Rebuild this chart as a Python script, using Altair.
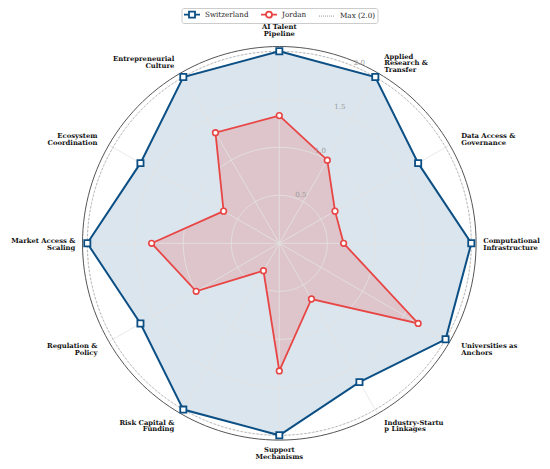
import altair as alt
import numpy as np
import pandas as pd

categories = ["AI Talent\nPipeline", "Applied\nResearch &\nTransfer", "Data Access &\nGovernance",
              "Computational\nInfrastructure", "Universities as\nAnchors", "Industry-Startu\np Linkages",
              "Support\nMechanisms", "Risk Capital &\nFunding", "Regulation &\nPolicy",
              "Market Access &\nScaling", "Ecosystem\nCoordination", "Entrepreneurial\nCulture"]
switzerland = [2.0, 2.0, 1.67, 2.0, 2.0, 1.67, 2.0, 2.0, 1.67, 2.0, 1.67, 2.0]
jordan = [1.33, 1.0, 0.67, 0.67, 1.67, 0.67, 1.33, 0.33, 1.0, 1.33, 0.67, 1.33]
series = ["Switzerland", "Jordan", "Max (2.0)"]
r_ticks = [0.5, 1.0, 1.5, 2.0]
r_tick_labels = ["0.5", "1.0", "1.5", "2.0"]
r_max_value = 2.0
r_limit = 2.05

# ---- geometry / layout constants ----
W, H = 534, 453
CX, CY = 271.3, 235.3
S = 96.0
LH = 6.6
xdom = [-CX / S, (W - CX) / S]
ydom = [-(H - CY) / S, CY / S]
n = len(categories)
ang = [2 * np.pi * i / n for i in range(n)]

def xy(r, a):
    return r * np.sin(a), r * np.cos(a)

# polygons
rows = []
for name, vals in [("Switzerland", switzerland), ("Jordan", jordan)]:
    for k in range(n + 1):
        i = k % n
        x, y = xy(vals[i], ang[i])
        rows.append({"series": name, "i": k, "x": x, "y": y})
poly = pd.DataFrame(rows)

# grid rings
ring_rows = []
for rv in r_ticks + [r_limit]:
    for k, t in enumerate(np.linspace(0, 2 * np.pi, 181)):
        x, y = xy(rv, t)
        ring_rows.append({"ring": rv, "i": k, "x": x, "y": y})
rings = pd.DataFrame(ring_rows)

spoke_rows = []
for i, a in enumerate(ang):
    for k, rv in enumerate([0, r_limit]):
        x, y = xy(rv, a)
        spoke_rows.append({"spoke": i, "i": k, "x": x, "y": y})
spokes = pd.DataFrame(spoke_rows)

# category labels (roughly block-centred on the anchor)
lab_rows = []
for i, a in enumerate(ang):
    deg = 360 * i / n
    if deg == 0:
        al, rp, f = "center", 213, 1.0
    elif deg == 180:
        al, rp, f = "center", 210, 1.0
    elif deg == 90:
        al, rp, f = "left", 204, 0.7
    elif deg == 270:
        al, rp, f = "right", 204, 0.7
    elif deg < 180:
        al, rp, f = "left", 210, 0.7
    else:
        al, rp, f = "right", 210, 0.7
    x, y = xy(rp / S, a)
    nl = categories[i].count("\n") + 1
    y += f * (nl - 1) * LH / 2 / S
    lab_rows.append({"label": categories[i], "al": al, "x": x, "y": y})
labs = pd.DataFrame(lab_rows)

# radial tick labels
tick_rows = []
for rv, t in zip(r_ticks, r_tick_labels):
    x, y = xy(rv + 5 / S, np.deg2rad(24))
    tick_rows.append({"t": t, "x": x, "y": y})
ticks = pd.DataFrame(tick_rows)

X = alt.X("x:Q", scale=alt.Scale(domain=xdom, nice=False, zero=False), axis=None)
Y = alt.Y("y:Q", scale=alt.Scale(domain=ydom, nice=False, zero=False), axis=None)
O = alt.Order("i:Q")

blue = "#0b4f85"
red = "#e84545"

sw = poly[poly["series"] == "Switzerland"]
jo = poly[poly["series"] == "Jordan"]

fill_sw = alt.Chart(sw).mark_line(fill=blue, fillOpacity=0.15, strokeOpacity=0).encode(x=X, y=Y, order=O)
fill_jo = alt.Chart(jo).mark_line(fill=red, fillOpacity=0.2, strokeOpacity=0).encode(x=X, y=Y, order=O)

grid_r = alt.Chart(rings[rings["ring"].isin(r_ticks)]).mark_line(color="#e3e3e3", strokeWidth=0.8).encode(
    x=X, y=Y, order=O, detail="ring:N")
grid_s = alt.Chart(spokes).mark_line(color="#e3e3e3", strokeWidth=0.8).encode(
    x=X, y=Y, order=O, detail="spoke:N")
spine = alt.Chart(rings[rings["ring"] == r_limit]).mark_line(color="#555555", strokeWidth=1).encode(
    x=X, y=Y, order=O)
maxring = alt.Chart(rings[rings["ring"] == r_max_value]).mark_line(
    color="#aaaaaa", strokeWidth=0.8, strokeDash=[2, 2]).encode(x=X, y=Y, order=O)

line_sw = alt.Chart(sw).mark_line(color=blue, strokeWidth=2).encode(x=X, y=Y, order=O)
line_jo = alt.Chart(jo).mark_line(color=red, strokeWidth=1.8).encode(x=X, y=Y, order=O)
pts_sw = alt.Chart(sw[sw["i"] < n]).mark_point(shape="square", filled=True, fill="white", stroke=blue,
                                               strokeWidth=1.8, size=38, opacity=1).encode(x=X, y=Y)
pts_jo = alt.Chart(jo[jo["i"] < n]).mark_point(shape="circle", filled=True, fill="white", stroke=red,
                                               strokeWidth=1.6, size=32, opacity=1).encode(x=X, y=Y)

txt_layers = []
for al in ["center", "left", "right"]:
    txt_layers.append(
        alt.Chart(labs[labs["al"] == al]).mark_text(
            align=al, baseline="middle", font="DejaVu Serif", fontWeight="bold",
            fontSize=6.8, lineHeight=LH, lineBreak="\n", color="#111111"
        ).encode(x=X, y=Y, text="label:N")
    )

tick_txt = alt.Chart(ticks).mark_text(
    align="center", baseline="middle", font="DejaVu Serif", fontSize=7, color="#9a9a9a"
).encode(x=X, y=Y, text="t:N")

# legend symbols (unit = sqrt(symbolSize)/2 px)
L0, L1, h = -1.0, 3.0, 0.75
m = (L0 + L1) / 2
sq = f"M{L0},0H{m-h}M{m+h},0H{L1}M{m-h},{-h}H{m+h}V{h}H{m-h}Z"
ci = (f"M{L0},0H{m-h}M{m+h},0H{L1}M{m+h},0A{h},{h} 0 1,1 {m-h},0"
      f"A{h},{h} 0 1,1 {m+h},0Z")
segs = []
v = L0
while v < L1 - 0.05:
    segs.append(f"M{v:.2f},0H{min(v + 0.25, L1):.2f}")
    v += 0.5
dot = "".join(segs)

leg_df = pd.DataFrame({"series": series})
legend = alt.Chart(leg_df).mark_point(filled=False, opacity=0).encode(
    color=alt.Color("series:N", scale=alt.Scale(domain=series, range=[blue, red, "#c4c4c4"]),
                    legend=alt.Legend(orient="none", legendX=173.5, legendY=0, direction="horizontal",
                                      title=None, symbolSize=64, symbolStrokeWidth=1.8,
                                      symbolOpacity=1, symbolFillColor="white",
                                      labelFont="DejaVu Serif", labelFontSize=7.2, labelColor="#222222",
                                      strokeColor="#cccccc", cornerRadius=2, padding=1.5,
                                      fillColor="white", columnPadding=8, labelOffset=12)),
    shape=alt.Shape("series:N", scale=alt.Scale(domain=series, range=[sq, ci, dot]))
)

chart = alt.layer(
    fill_sw, fill_jo, grid_r, grid_s, spine, maxring, line_sw, line_jo, pts_sw, pts_jo,
    *txt_layers, tick_txt, legend
).properties(
    width=W, height=H, autosize=alt.AutoSizeParams(type="none"), padding=0
).configure_view(stroke=None)

chart.save("out.html", embed_options={"renderer": "svg", "actions": False})
